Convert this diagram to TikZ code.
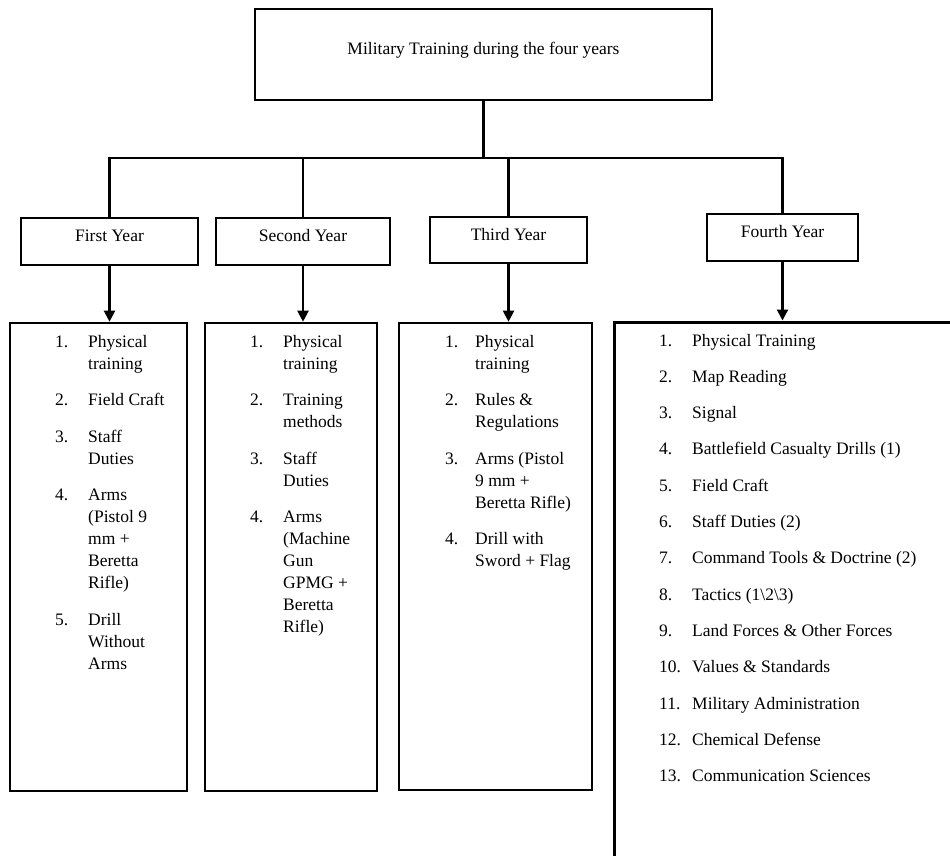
\documentclass[tikz,border=0pt]{standalone}
\usepackage{fontspec}
\setmainfont{Liberation Serif}
\usetikzlibrary{arrows.meta}
\tikzset{
  box/.style={draw, line width=2.6pt, inner sep=0pt, text height=0pt, text depth=0pt,
              font=\fontsize{17.5}{22}\selectfont},
  link/.style={line width=2.1pt},
  arr/.style={line width=2.1pt, -{Triangle[length=11pt,width=11pt]}},
  listtxt/.style={anchor=base west, inner sep=0pt, font=\fontsize{17.5}{22}\selectfont},
}
\begin{document}
\begin{tikzpicture}[x=1pt,y=-1pt]
\useasboundingbox (0,0) rectangle (950,855);
\clip (0,0) rectangle (950,855);

\node[box, minimum width=457pt, minimum height=91pt] (top) at (483.5,54.5) {Military Training during the four years};
\node[box, minimum width=177pt, minimum height=47pt] (y1) at (109.5,241.5) {First Year};
\node[box, minimum width=174pt, minimum height=47pt] (y2) at (303,241.5) {Second Year};
\node[box, minimum width=157pt, minimum height=46pt] (y3) at (508.5,240) {Third Year};
\node[box, minimum width=151pt, minimum height=47pt] (y4) at (782.5,237.5) {Fourth Year};

\coordinate (j) at (483.5,158);
\draw[link] (top.south) -- (j);
\draw[link] (y1.north) |- (j) -| (y4.north);
\draw[link] (y2.north) -- (y2.north |- j);
\draw[link] (y3.north) -- (y3.north |- j);

\node[box, minimum width=177pt, minimum height=468pt] (l1) at (98.5,557) {};
\node[box, minimum width=172pt, minimum height=468pt] (l2) at (291,557) {};
\node[box, minimum width=193pt, minimum height=467pt] (l3) at (495.5,556.5) {};
\node[box, line width=3pt, minimum width=351pt, minimum height=548pt] (l4) at (789.5,596) {};

\draw[arr] (y1.south) -- (y1.south |- l1.north);
\draw[arr] (y2.south) -- (y2.south |- l2.north);
\draw[arr] (y3.south) -- (y3.south |- l3.north);
\draw[arr] (y4.south) -- (y4.south |- l4.north);

\node[listtxt] (t1) at (55,347) {\begin{tabular}[t]{@{}p{33pt}@{}l@{}}
1. & Physical \\ & training \\[14.5pt]
2. & Field Craft \\[14.5pt]
3. & Staff \\ & Duties \\[14.5pt]
4. & Arms \\ & (Pistol 9 \\ & mm + \\ & Beretta \\ & Rifle) \\[14.5pt]
5. & Drill \\ & Without \\ & Arms
\end{tabular}};

\node[listtxt] (t2) at (250,347) {\begin{tabular}[t]{@{}p{33pt}@{}l@{}}
1. & Physical \\ & training \\[14.5pt]
2. & Training \\ & methods \\[14.5pt]
3. & Staff \\ & Duties \\[14.5pt]
4. & Arms \\ & (Machine \\ & Gun \\ & GPMG + \\ & Beretta \\ & Rifle)
\end{tabular}};

\node[listtxt] (t3) at (445,347) {\begin{tabular}[t]{@{}p{30pt}@{}l@{}}
1. & Physical \\ & training \\[14.5pt]
2. & Rules \& \\ & Regulations \\[14.5pt]
3. & Arms (Pistol \\ & 9 mm + \\ & Beretta Rifle) \\[14.5pt]
4. & Drill with \\ & Sword + Flag
\end{tabular}};

\node[listtxt] (t4) at (659,346) {\begin{tabular}[t]{@{}p{33pt}@{}l@{}}
1. & Physical Training \\[14.33pt]
2. & Map Reading \\[14.33pt]
3. & Signal \\[14.33pt]
4. & Battlefield Casualty Drills (1) \\[14.33pt]
5. & Field Craft \\[14.33pt]
6. & Staff Duties (2) \\[14.33pt]
7. & Command Tools \& Doctrine (2) \\[14.33pt]
8. & Tactics (1\textbackslash 2\textbackslash 3) \\[14.33pt]
9. & Land Forces \& Other Forces \\[14.33pt]
10. & Values \& Standards \\[14.33pt]
11. & Military Administration \\[14.33pt]
12. & Chemical Defense \\[14.33pt]
13. & Communication Sciences
\end{tabular}};
\end{tikzpicture}
\end{document}
